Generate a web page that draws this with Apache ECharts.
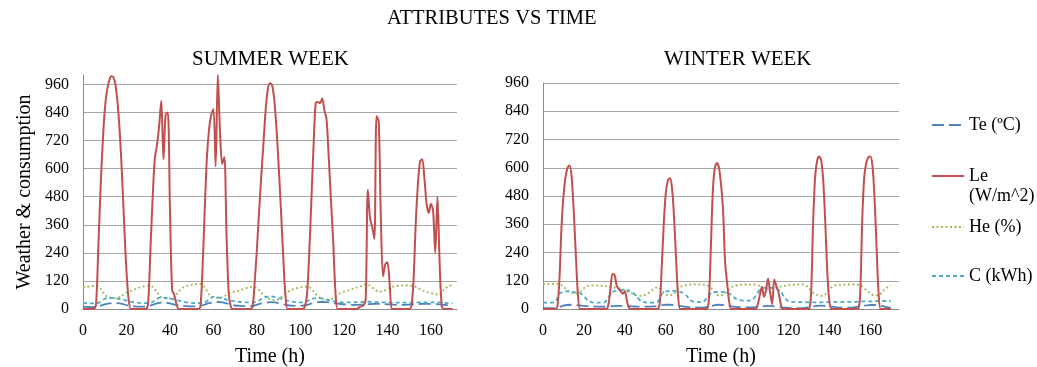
<!DOCTYPE html>
<html>
<head>
<meta charset="utf-8">
<title>Attributes vs time</title>
<script src="https://cdn.jsdelivr.net/npm/echarts@6/dist/echarts.min.js"></script>
<style>
  html, body { margin: 0; padding: 0; background: #fff; }
  #chart { width: 1037px; height: 367px; }
</style>
</head>
<body>
<div id="chart"></div>
<script>
// tick labels
const yTicks = [0, 120, 240, 360, 480, 600, 720, 840, 960]
const xTicks = [0, 20, 40, 60, 80, 100, 120, 140, 160]

// Le (W/m^2), one value per hour, h0..h170
const summerLe = [
  0, 0, 0, 0, 0, 0, 20, 250, 500, 700,
  850, 930, 975, 995, 990, 955, 870, 740, 560, 350,
  160, 40, 0, 0, 0, 0, 0, 0, 0, 0,
  30, 250, 470, 640, 700, 780, 890, 640, 830, 840,
  420, 80, 60, 20, 0, 0, 0, 0, 0, 0,
  0, 0, 0, 0, 10, 180, 430, 650, 770, 830,
  855, 610, 1000, 760, 620, 650, 320, 70, 10, 0,
  0, 0, 0, 0, 0, 0, 0, 0, 10, 120,
  260, 420, 570, 710, 850, 940, 965, 955, 890, 770,
  610, 430, 240, 70, 0, 0, 0, 0, 0, 0,
  0, 0, 10, 60, 230, 460, 690, 880, 885, 880,
  900, 850, 810, 650, 470, 300, 90, 0, 0, 0,
  0, 0, 0, 0, 0, 0, 0, 8, 12, 15,
  40, 510, 390, 350, 300, 825, 800, 380, 140, 190,
  200, 110, 0, 0, 0, 0, 0, 0, 0, 0,
  0, 10, 120, 360, 530, 630, 640, 560, 450, 410,
  450, 420, 240, 480, 200, 10, 0, 0, 0, 0,
  0
]
const winterLe = [
  0, 0, 0, 0, 0, 0, 0, 10, 120, 340,
  480, 560, 600, 610, 560, 420, 240, 70, 0, 0,
  0, 0, 0, 0, 0, 0, 0, 0, 0, 0,
  0, 0, 20, 90, 150, 145, 100, 85, 75, 65,
  75, 35, 5, 0, 0, 0, 0, 0, 0, 0,
  0, 0, 0, 0, 0, 0, 0, 20, 170, 360,
  490, 545, 555, 520, 400, 220, 60, 0, 0, 0,
  0, 0, 0, 0, 0, 0, 0, 0, 0, 0,
  0, 30, 250, 500, 600, 620, 600, 530, 420, 200,
  110, 30, 0, 0, 0, 0, 0, 0, 0, 0,
  0, 0, 0, 0, 0, 20, 60, 95, 52, 80,
  130, 70, 20, 125, 100, 75, 30, 0, 0, 0,
  0, 0, 0, 0, 0, 0, 0, 0, 0, 0,
  0, 60, 360, 560, 630, 648, 630, 540, 360, 150,
  30, 0, 0, 0, 0, 0, 0, 0, 0, 0,
  0, 0, 0, 0, 0, 60, 370, 560, 620, 645,
  648, 610, 480, 270, 70, 0, 0, 0, 0, 0,
  0
]

// Te, He, C: one value every 2 hours, h0..h170
const summerTe = [
  10, 9, 8, 9, 14, 20, 24, 26, 25, 22,
  17, 13, 11, 10, 10, 12, 18, 24, 27, 27,
  24, 19, 15, 13, 12, 11, 11, 13, 19, 25,
  29, 30, 28, 24, 19, 15, 13, 12, 12, 13,
  18, 24, 27, 29, 28, 25, 20, 16, 14, 13,
  13, 15, 20, 26, 29, 30, 29, 27, 24, 22,
  20, 19, 18, 18, 19, 20, 21, 22, 22, 21,
  20, 19, 18, 18, 18, 19, 20, 21, 22, 22,
  22, 21, 20, 18, 16, 15
]
const summerHe = [
  92, 95, 98, 100, 88, 62, 48, 45, 48, 58,
  70, 78, 85, 92, 97, 100, 95, 72, 50, 45,
  45, 50, 75, 92, 100, 103, 106, 107, 92, 62,
  50, 48, 50, 60, 70, 74, 78, 86, 92, 95,
  88, 70, 52, 42, 38, 42, 58, 72, 82, 88,
  93, 96, 94, 76, 55, 42, 40, 42, 52, 66,
  74, 80, 86, 92, 98, 106, 100, 84, 74, 76,
  86, 94, 98, 100, 101, 100, 98, 90, 80, 72,
  68, 64, 60, 82, 98, 102
]
const summerC = [
  26, 25, 24, 24, 30, 44, 48, 47, 44, 40,
  36, 32, 28, 26, 25, 25, 30, 44, 50, 48,
  45, 40, 36, 32, 28, 26, 25, 25, 28, 40,
  52, 50, 46, 40, 36, 33, 31, 29, 28, 28,
  32, 42, 50, 54, 52, 47, 42, 36, 32, 29,
  28, 30, 38, 45, 47, 45, 40, 35, 31, 29,
  28, 28, 28, 29, 30, 31, 31, 30, 29, 28,
  28, 27, 27, 27, 27, 27, 28, 28, 28, 28,
  28, 28, 28, 26, 25, 25
]
const winterTe = [
  5, 4, 4, 4, 8, 14, 17, 18, 17, 15,
  13, 12, 11, 10, 10, 10, 11, 12, 13, 13,
  13, 12, 11, 10, 10, 10, 10, 11, 13, 16,
  18, 18, 17, 14, 11, 9, 8, 7, 6, 6,
  8, 12, 16, 18, 17, 14, 11, 9, 8, 7,
  7, 7, 8, 10, 12, 13, 12, 10, 8, 6,
  5, 4, 4, 4, 5, 8, 11, 13, 14, 13,
  11, 9, 7, 6, 6, 6, 7, 10, 13, 15,
  17, 17, 15, 12, 8, 5
]
const winterHe = [
  105, 106, 107, 107, 106, 95, 78, 68, 66, 72,
  88, 98, 100, 100, 99, 97, 95, 93, 90, 86,
  80, 72, 64, 58, 56, 60, 70, 85, 92, 80,
  62, 58, 66, 85, 97, 102, 104, 105, 105, 104,
  102, 90, 68, 57, 60, 75, 92, 100, 103, 104,
  104, 104, 103, 98, 88, 86, 90, 93, 95, 98,
  101, 103, 104, 105, 103, 88, 70, 60, 56, 62,
  85, 98, 102, 103, 104, 104, 104, 103, 96, 80,
  66, 57, 58, 75, 90, 100
]
const winterC = [
  27, 27, 27, 30, 65, 73, 75, 73, 70, 68,
  55, 35, 28, 27, 27, 28, 50, 72, 78, 80,
  80, 78, 68, 50, 33, 28, 27, 27, 30, 62,
  74, 77, 77, 74, 70, 58, 38, 30, 29, 30,
  45, 66, 72, 73, 72, 70, 60, 45, 38, 36,
  36, 38, 55, 82, 90, 92, 90, 85, 75, 50,
  32, 30, 29, 29, 29, 28, 28, 28, 28, 29,
  30, 30, 30, 30, 30, 30, 30, 31, 32, 32,
  32, 33, 34, 34, 34, 34
]

const FONT = '"Liberation Serif", "DejaVu Serif", serif'
const GRID_COLOR = '#a6a6a6'

const names = ['Te (ºC)', 'Le (W/m^2)', 'He (%)', 'C (kWh)']
const colors = ['#4f81bd', '#c0504d', '#9bbb59', '#4bacc6']
const dashes = [[12, 5], 'solid', [2, 2.5], [4, 3]]
const widths = [1.8, 2, 1.8, 1.8]

const chart = echarts.init(document.getElementById('chart'))

function pairs(values, step) {
  return values.map((v, i) => [i * step, v])
}

function makeSeries(idx, values, step, gridIndex) {
  return {
    name: names[idx],
    type: 'line',
    xAxisIndex: gridIndex,
    yAxisIndex: gridIndex,
    data: pairs(values, step),
    showSymbol: false,
    symbol: 'none',
    smooth: 0.3,
    clip: false,
    silent: true,
    z: idx === 1 ? 3 : 2,
    lineStyle: { color: colors[idx], width: widths[idx], type: dashes[idx] },
    itemStyle: { color: colors[idx] },
  }
}

function makeXAxis(gridIndex, max) {
  return {
    type: 'value',
    gridIndex: gridIndex,
    min: 0,
    max: max,
    interval: 20,
    name: 'Time (h)',
    nameLocation: 'middle',
    nameGap: 38,
    nameTextStyle: { fontFamily: FONT, fontSize: 20, color: '#000' },
    axisLine: { show: true, lineStyle: { color: '#8c8c8c', width: 1 } },
    axisTick: { show: false },
    splitLine: { show: false },
    axisLabel: {
      fontFamily: FONT, fontSize: 16, color: '#000', margin: 14,
      showMaxLabel: false,
      formatter: v => (xTicks.indexOf(v) >= 0 ? String(v) : ''),
    },
  }
}

function makeYAxis(gridIndex, max, withName) {
  const axis = {
    type: 'value',
    gridIndex: gridIndex,
    min: 0,
    max: max,
    interval: 120,
    axisLine: { show: true, lineStyle: { color: '#8c8c8c', width: 1 } },
    axisTick: { show: false },
    splitLine: { show: true, showMaxLine: max === 960, lineStyle: { color: GRID_COLOR, width: 1 } },
    axisLabel: {
      fontFamily: FONT, fontSize: 16, color: '#000', margin: 14,
      formatter: v => (yTicks.indexOf(v) >= 0 ? String(v) : ''),
    },
  }
  if (withName) {
    axis.name = 'Weather & consumption'
    axis.nameLocation = 'middle'
    axis.nameGap = 48
    axis.nameTextStyle = { fontFamily: FONT, fontSize: 20, color: '#000' }
  }
  return axis
}

// one legend box per entry so each can sit where the reference puts it
function legendItem(idx, top, extraText) {
  return {
    show: true,
    orient: 'vertical',
    data: [names[idx]],
    left: 931,
    top: top,
    padding: 0,
    itemWidth: 32,
    itemHeight: 14,
    selectedMode: false,
    itemStyle: { opacity: 0 },
    formatter: n => (n === 'Le (W/m^2)' ? ' \nLe\n(W/m^2)' : n),
    textStyle: Object.assign({ fontFamily: FONT, fontSize: 18, color: '#000' }, extraText || {}),
  }
}

const option = {
  backgroundColor: '#fff',
  animation: false,
  title: [
    { text: 'ATTRIBUTES VS TIME', left: 387, top: 8, padding: 0,
      textStyle: { fontFamily: FONT, fontSize: 20.5, fontWeight: 'normal', color: '#000' } },
    { text: 'SUMMER WEEK', left: 192, top: 49, padding: 0,
      textStyle: { fontFamily: FONT, fontSize: 21, fontWeight: 'normal', color: '#000' } },
    { text: 'WINTER WEEK', left: 664, top: 49, padding: 0,
      textStyle: { fontFamily: FONT, fontSize: 21, fontWeight: 'normal', color: '#000' } },
  ],
  legend: [
    legendItem(0, 116),
    legendItem(1, 146, { lineHeight: 20 }),
    legendItem(2, 218),
    legendItem(3, 267),
  ],
  grid: [
    { left: 83, top: 75, width: 374, height: 234, outerBoundsMode: 'none' },
    { left: 543, top: 83, width: 356, height: 226, outerBoundsMode: 'none' },
  ],
  xAxis: [makeXAxis(0, 172), makeXAxis(1, 174)],
  yAxis: [makeYAxis(0, 1000, true), makeYAxis(1, 960, false)],
  series: [
    makeSeries(0, summerTe, 2, 0),
    makeSeries(1, summerLe, 1, 0),
    makeSeries(2, summerHe, 2, 0),
    makeSeries(3, summerC, 2, 0),
    makeSeries(0, winterTe, 2, 1),
    makeSeries(1, winterLe, 1, 1),
    makeSeries(2, winterHe, 2, 1),
    makeSeries(3, winterC, 2, 1),
  ],
}

chart.setOption(option)
</script>
</body>
</html>
